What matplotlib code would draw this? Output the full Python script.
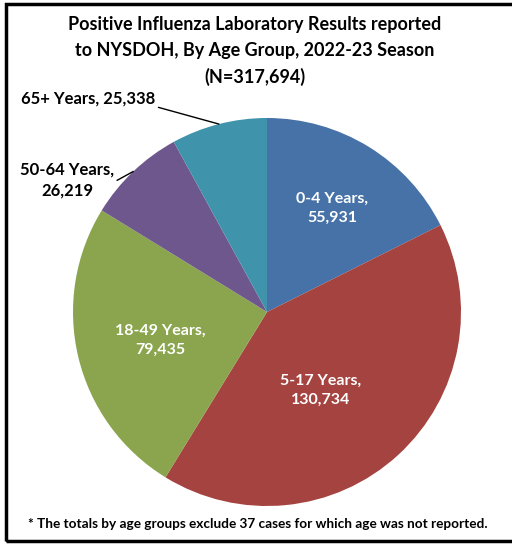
import numpy as np
import matplotlib.pyplot as plt
from matplotlib.patches import Rectangle

plt.rcParams['font.family'] = ['Lato', 'DejaVu Sans']

# data
groups = ['0-4 Years', '5-17 Years', '18-49 Years', '50-64 Years', '65+ Years']
counts = [55931, 130734, 79435, 26219, 25338]
colors = ['#4672a8', '#a4433f', '#8aa54d', '#6e578c', '#3f93aa']
title = ('Positive Influenza Laboratory Results reported\n'
         'to NYSDOH, By Age Group, 2022-23 Season\n(N=317,694)')
footnote = '* The totals by age groups exclude 37 cases for which age was not reported.'

W, H = 512, 544
fig = plt.figure(figsize=(W / 100, H / 100), dpi=100)

# outer frame (left, top, bottom visible)
fig.patches.append(Rectangle((6 / W, 3 / H), 1.2, 1 - 7 / H, transform=fig.transFigure,
                             fill=False, edgecolor='black', linewidth=2.5))

# pie axes: center (267, 312), radius 194 px
cx, cy, r = 267, 312, 194
ax = fig.add_axes([(cx - r) / W, (H - cy - r) / H, 2 * r / W, 2 * r / H])
wedges, _ = ax.pie(counts, colors=colors, startangle=90, counterclock=False,
                   radius=1, wedgeprops=dict(linewidth=0))
ax.set_xlim(-1, 1)
ax.set_ylim(-1, 1)
ax.set_aspect('auto')
ax.axis('off')

# inside labels (white), distance from center along angle
inside = {0: (57.7, 0.63), 1: (-55.8, 0.49), 2: (-165.3, 0.57)}
for i, (ang, d) in inside.items():
    a = np.deg2rad(ang)
    ax.text(d * np.cos(a), d * np.sin(a), f'{groups[i]},\n{counts[i]:,}',
            ha='center', va='center', color='white', fontsize=11.5,
            fontweight='bold', linespacing=1.45)

# outside labels with leader lines
outside = {3: ((-1.03, 0.68), (1, 0.45), '{g},\n{c}'),
           4: ((-0.92, 1.10), (1, 0.0), '{g}, {c}')}
for i, (pos, rel, fmt) in outside.items():
    w = wedges[i]
    mid = np.deg2rad((w.theta1 + w.theta2) / 2)
    ax.annotate(fmt.format(g=groups[i], c=f'{counts[i]:,}'),
                xy=(np.cos(mid), np.sin(mid)), xytext=pos,
                ha='center', va='center', fontsize=12, fontweight='bold',
                linespacing=1.35, annotation_clip=False,
                arrowprops=dict(arrowstyle='-', color='black', lw=1,
                                relpos=rel, shrinkA=0, shrinkB=0))

fig.text(255 / W, 1 - 51 / H, title, ha='center', va='center', fontsize=13,
         fontweight='bold', linespacing=1.6)
fig.text(258 / W, 1 - 524 / H, footnote, ha='center', va='center',
         fontsize=9.8, fontweight='bold')

fig.savefig('out.png', dpi=100)
